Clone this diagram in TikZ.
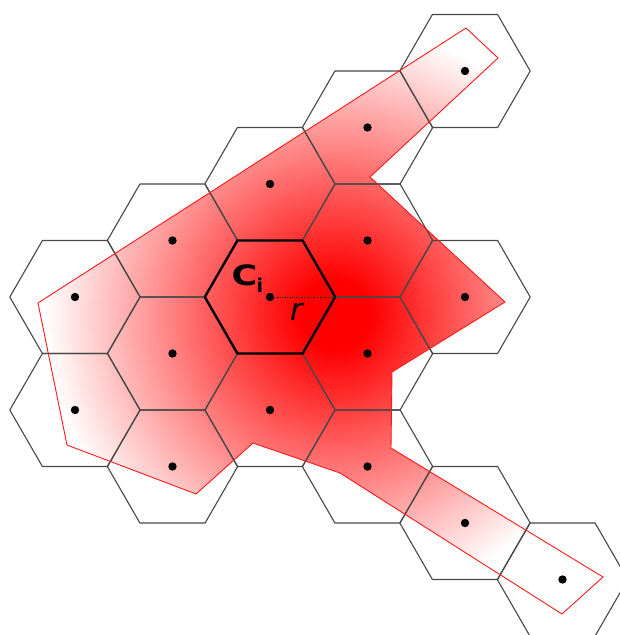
\documentclass[tikz,border=0pt]{standalone}
\usepackage{graphicx}
\usepackage{fontspec}
\newfontfamily\djv{DejaVu Sans}
\pgfdeclareradialshading{redglow}{\pgfpoint{0bp}{0bp}}{color(0bp)=(red); color(3bp)=(red); color(25bp)=(white); color(50bp)=(white)}
\begin{document}
\begin{tikzpicture}[x=1pt,y=-1pt,
  hexline/.style={draw=black!72, line width=1.1pt, line join=round},
  cellhex/.style={draw=black, line width=2.4pt, line join=round},
  area/.style={draw=red!90!white, line width=0.9pt, line join=miter},
  radius line/.style={draw=black!85, line width=1pt, dash pattern=on 1.4pt off 1pt},
  cdot/.style={fill=black}]
\useasboundingbox (0,0) rectangle (620,635);
\def\R{65.2}\def\H{56.5}
% coverage area
\begin{scope}
\clip (38,303) -- (466,28) -- (498,58) -- (370,177) -- (505,302) -- (392,372) -- (391,448) -- (603,577) -- (562,614) -- (340,473) -- (253,443) -- (196,494) -- (67,445) -- cycle;
\shade[shading=redglow] (335,315) circle (290);
\end{scope}
% hexagon grid
\foreach \x/\y in {75/297, 75/410,
                   172.5/240.5, 172.5/353.5, 172.5/466.5,
                   270/184, 270/410,
                   367.5/127.5, 367.5/240.5, 367.5/353.5, 367.5/466.5,
                   465/71, 465/297, 465/523,
                   562.5/579.5}{
  \draw[hexline] (\x-\R,\y) -- (\x-\R/2,\y-\H) -- (\x+\R/2,\y-\H) -- (\x+\R,\y) -- (\x+\R/2,\y+\H) -- (\x-\R/2,\y+\H) -- cycle;
  \fill[cdot] (\x,\y) circle (4.2);
}
% centre cell
\coordinate (ci) at (270,297);
\coordinate (cir) at (270+\R,297);
\draw[cellhex] (270-\R,297) -- (270-\R/2,297-\H) -- (270+\R/2,297-\H) -- (cir) -- (270+\R/2,297+\H) -- (270-\R/2,297+\H) -- cycle;
\draw[area] (38,303) -- (466,28) -- (498,58) -- (370,177) -- (505,302) -- (392,372) -- (391,448) -- (603,577) -- (562,614) -- (340,473) -- (253,443) -- (196,494) -- (67,445) -- cycle;
\draw[radius line] (ci) -- (cir);
\fill[cdot] (ci) circle (4.2);
\node[anchor=base west, inner sep=0pt, font=\djv\bfseries\fontsize{28}{28}\selectfont] (clab) at (231.5,285) {\scalebox{1.25}[1]{C}};
\node[anchor=base west, inner sep=0pt, font=\djv\bfseries\fontsize{19}{19}\selectfont] (ilab) at (256.5,292) {i};
\node[anchor=base west, inner sep=0pt, font=\djv\itshape\fontsize{31}{31}\selectfont] (rlab) at (290,320) {r};
\end{tikzpicture}
\end{document}
